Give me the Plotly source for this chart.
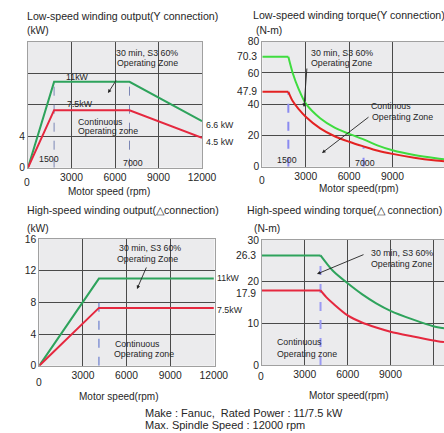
import plotly.graph_objects as go

# ---------------- data ----------------
# Panel 1: low-speed winding output (Y connection), kW vs rpm
lo_out_rpm = [0, 1800, 7000, 12000]
lo_out_s3 = [0, 10.9, 10.9, 5.9]
lo_out_cont = [0, 7.3, 7.3, 3.8]
lo_out_mark_rpm = [1800, 7000]
lo_out_mark_top = [10.9, 10.9]

# Panel 2: low-speed winding torque (Y connection), N-m vs rpm
lo_tq_rpm = [0, 1800, 2100, 2500, 3000, 4000, 5000, 6000, 7000, 8000, 9000, 10500, 12000, 12560]
lo_tq_s3 = [70.3, 70.3, 60, 50, 40.5, 31, 25, 21, 17.5, 13.5, 10.5, 7.5, 5.4, 4.8]
lo_tq_cont = [47.9, 47.9, 42, 37, 32, 24.5, 19.5, 16, 13, 10.2, 8.2, 5.8, 4.0, 3.5]
lo_tq_mark_rpm = [1800, 7000]
lo_tq_mark_top = [47.9, 13]

# Panel 3: high-speed winding output (delta connection), kW vs rpm
hi_out_rpm = [0, 4100, 12000]
hi_out_s3 = [0, 11.0, 11.0]
hi_out_cont = [0, 7.3, 7.3]
hi_out_mark_rpm = [4100]
hi_out_mark_top = [8.8]

# Panel 4: high-speed winding torque (delta connection), N-m vs rpm
hi_tq_rpm = [0, 4100, 4500, 5000, 6000, 7000, 8000, 9000, 10500, 12000, 12750]
hi_tq_s3 = [26.3, 26.3, 24.5, 22.5, 19.6, 17.0, 14.8, 13.0, 11.0, 9.3, 8.8]
hi_tq_cont = [17.9, 17.9, 16.3, 14.7, 11.9, 10.2, 9.0, 8.0, 6.9, 5.9, 5.5]
hi_tq_mark_rpm = [4100]
hi_tq_mark_top = [26.3]

# tick values / labels
p1_xticks = [0, 3000, 6000, 9000, 12000]
p1_xlabels = ["", "3000", "6000", "9000", "12000"]
p1_yticks = [0, 4, 8, 12, 16]
p1_ylabels = ["0", "4", "", "", ""]
p2_xticks = [0, 3000, 6000, 9000]
p2_xlabels = ["", "3000", "6000", "9000"]
p2_yticks = [0, 20, 40, 60, 80]
p2_ylabels = ["0", "20", "40", "60", "80"]
p2_extra_y = [70.3, 47.9]
p3_xticks = [0, 3000, 6000, 9000, 12000]
p3_xlabels = ["", "3000", "6000", "9000", "12000"]
p3_yticks = [0, 4, 8, 12, 16]
p3_ylabels = ["0", "4", "8", "12", "16"]
p4_xticks = [0, 3000, 6000, 9000, 12000]
p4_xlabels = ["", "3000", "6000", "9000", "12000"]
p4_yticks = [0, 10, 20, 30]
p4_ylabels = ["0", "10", "20", "30"]

# ---------------- styling ----------------
W, H = 444, 433
FONT = "Liberation Sans, Arial, sans-serif"
TXT = "#262626"
GRID = "#4a4a4a"
FRAME = "#a0a0a0"
BG = "#ebebed"
G_DARK = "#2ea35c"
G_BRIGHT = "#3fdc3f"
RED = "#e5283f"
RED2 = "#e32222"


def px(x):
    return x / W


def py(y):
    return 1 - y / H


fig = go.Figure()


def add_curve(xa, ya, xs, ys, color, knee=None, width=2):
    if knee is None:
        fig.add_trace(go.Scatter(x=xs, y=ys, xaxis=xa, yaxis=ya, mode="lines",
                                 line=dict(color=color, width=width), showlegend=False,
                                 hoverinfo="skip"))
    else:
        fig.add_trace(go.Scatter(x=xs[:knee + 1], y=ys[:knee + 1], xaxis=xa, yaxis=ya,
                                 mode="lines", line=dict(color=color, width=width),
                                 showlegend=False, hoverinfo="skip"))
        fig.add_trace(go.Scatter(x=xs[knee:], y=ys[knee:], xaxis=xa, yaxis=ya,
                                 mode="lines", line=dict(color=color, width=width,
                                                         shape="spline", smoothing=0.8),
                                 showlegend=False, hoverinfo="skip"))


def add_marks(xa, ya, xs, tops, color, width):
    for xv, tv in zip(xs, tops):
        fig.add_trace(go.Scatter(x=[xv, xv], y=[0, tv], xaxis=xa, yaxis=ya, mode="lines",
                                 line=dict(color=color, width=width, dash="dash"),
                                 showlegend=False, hoverinfo="skip"))


# Panel 1
add_marks("x", "y", lo_out_mark_rpm, lo_out_mark_top, "#7b86b5", 1)
add_curve("x", "y", lo_out_rpm, lo_out_s3, G_DARK)
add_curve("x", "y", lo_out_rpm, lo_out_cont, RED)
# Panel 2
add_marks("x2", "y2", lo_tq_mark_rpm, lo_tq_mark_top, "#8a8af0", 2)
add_curve("x2", "y2", lo_tq_rpm, lo_tq_s3, G_BRIGHT, knee=1)
add_curve("x2", "y2", lo_tq_rpm, lo_tq_cont, RED2, knee=1)
# Panel 3
add_marks("x3", "y3", hi_out_mark_rpm, hi_out_mark_top, "#8595d5", 1.5)
add_curve("x3", "y3", hi_out_rpm, hi_out_s3, G_DARK)
add_curve("x3", "y3", hi_out_rpm, hi_out_cont, RED)
# Panel 4
add_marks("x4", "y4", hi_tq_mark_rpm, hi_tq_mark_top, "#9a9af2", 2)
add_curve("x4", "y4", hi_tq_rpm, hi_tq_s3, G_DARK, knee=1)
add_curve("x4", "y4", hi_tq_rpm, hi_tq_cont, RED, knee=1)

TF = dict(family=FONT, size=10.3, color=TXT)


def xax(dom, rng, anchor, tv, tt):
    return dict(domain=[px(dom[0]), px(dom[1])], range=rng, anchor=anchor,
                tickmode="array", tickvals=tv, ticktext=tt, showgrid=True,
                gridcolor=GRID, gridwidth=1, zeroline=False, showline=True,
                mirror=True, linecolor=FRAME, linewidth=1, ticks="",
                tickfont=TF, automargin=False, fixedrange=True)


def yax(dom, rng, anchor, tv, tt):
    return dict(domain=[py(dom[1]), py(dom[0])], range=rng, anchor=anchor,
                tickmode="array", tickvals=tv, ticktext=tt, showgrid=True,
                gridcolor=GRID, gridwidth=1, zeroline=False, showline=True,
                mirror=True, linecolor=FRAME, linewidth=1, ticks="",
                tickfont=TF, automargin=False, fixedrange=True)


anns = []


def T(text, x, y, size=8.8, xanchor="left", yanchor="middle"):
    anns.append(dict(text=text, x=px(x), y=py(y), xref="paper", yref="paper",
                     xanchor=xanchor, yanchor=yanchor, showarrow=False,
                     font=dict(family=FONT, size=size, color=TXT)))


def ARROW(hx, hy, tx, ty):
    anns.append(dict(text="", x=px(hx), y=py(hy), xref="paper", yref="paper",
                     ax=tx - hx, ay=ty - hy, showarrow=True, arrowhead=2,
                     arrowsize=0.8, arrowwidth=0.9, arrowcolor="#222"))


def YLAB(text, yval, yref, xright, yshift=0):
    anns.append(dict(text=text, x=px(xright), y=yval, xref="paper", yref=yref,
                     xanchor="right", yanchor="middle", showarrow=False,
                     yshift=yshift, font=TF))


# Titles and units
T("Low-speed winding output(Y connection)", 25, 16, 10.6)
T("(kW)", 25, 30, 10.3)
T("Low-speed winding torque(Y connection)", 251, 15, 10.6)
T("(N-m)", 254, 31, 10.3)
T("High-speed winding output(\u25b3connection)", 25, 210, 10.6)
T("(kW)", 25, 228, 10.3)
T("High-speed winding torque(\u25b3 connection)", 245, 210, 10.6)
T("(N-m)", 252, 228, 10.3)
# Axis titles
for txt, ax_x, ax_y in [("Motor speed (rpm)", 109, 191), ("Motor speed(rpm)", 358, 188),
                        ("Motor speed(rpm)", 118, 396), ("Motor speed(rpm)", 348, 395)]:
    T(txt, ax_x, ax_y, 10, "center")
# Footer
T("Make : Fanuc,  Rated Power : 11/7.5 kW", 143, 413, 11)
T("Max. Spindle Speed : 12000 rpm", 143, 425, 11)
# x "0" labels (set lower than the others)
for zx, zy in [(27, 183), (262, 180), (39, 382), (261, 376)]:
    T("0", zx, zy, 10.3, "center")

# Panel 1 inner text
T("1500", 37, 159)
T("7000", 121, 163)
T("11kW", 64, 77)
T("7.5kW", 65, 104)
T("Continuous", 76, 122)
T("Operating zone", 76, 131)
T("30 min, S3 60%", 114, 53)
T("Operating Zone", 115, 63)
T("6.6 kW", 204, 125)
T("4.5 kW", 204, 142)
ARROW(108, 93, 117, 79)

# Panel 2 inner text
T("30 min, S3 60%", 309, 53)
T("Operating Zone", 309, 63)
T("Continous", 369, 106)
T("Operating Zone", 370, 117)
T("1500", 275, 160)
T("7000", 353, 163)
ARROW(304, 107, 307, 67)
ARROW(322, 153, 370, 116)
for v in p2_extra_y:
    YLAB(f"{v}", v, "y2", 259)

# Panel 3 inner text
T("30 min, S3 60%", 117, 248)
T("Operating Zone", 115, 259)
T("Continuous", 113, 344)
T("Operating zone", 112, 354)
T("11kW", 215, 278)
T("7.5kW", 215, 310)
ARROW(137, 289, 147, 266)

# Panel 4 inner text
T("30 min, S3 60%", 369, 253)
T("Operating Zone", 369, 264)
T("Continuous", 275, 342)
T("Operating zone", 275, 354)
ARROW(317, 274, 365, 254)
YLAB("26.3", 26.3, "y4", 258)
YLAB("17.9", 17.9, "y4", 258, yshift=-3)

fig.update_layout(
    width=W, height=H, margin=dict(l=0, r=0, t=0, b=0),
    paper_bgcolor="white", plot_bgcolor=BG, showlegend=False,
    font=dict(family=FONT, color=TXT),
    xaxis=xax((28, 202), [0, 12000], "y", p1_xticks, p1_xlabels),
    yaxis=yax((41.7, 167.7), [0, 16], "x", p1_yticks, p1_ylabels),
    xaxis2=xax((262.3, 444), [0, 12560], "y2", p2_xticks, p2_xlabels),
    yaxis2=yax((41.7, 166.7), [0, 80], "x2", p2_yticks, p2_ylabels),
    xaxis3=xax((39.3, 214.5), [0, 12050], "y3", p3_xticks, p3_xlabels),
    yaxis3=yax((239, 365.7), [0, 16], "x3", p3_yticks, p3_ylabels),
    xaxis4=xax((262, 444), [0, 12750], "y4", p4_xticks, p4_xlabels),
    yaxis4=yax((240, 365), [0, 30], "x4", p4_yticks, p4_ylabels),
    annotations=anns,
)

fig.write_html(
    "out.html",
    config={"displayModeBar": False},
    post_script="document.body.style.margin='0px';document.body.style.overflow='hidden';",
)
